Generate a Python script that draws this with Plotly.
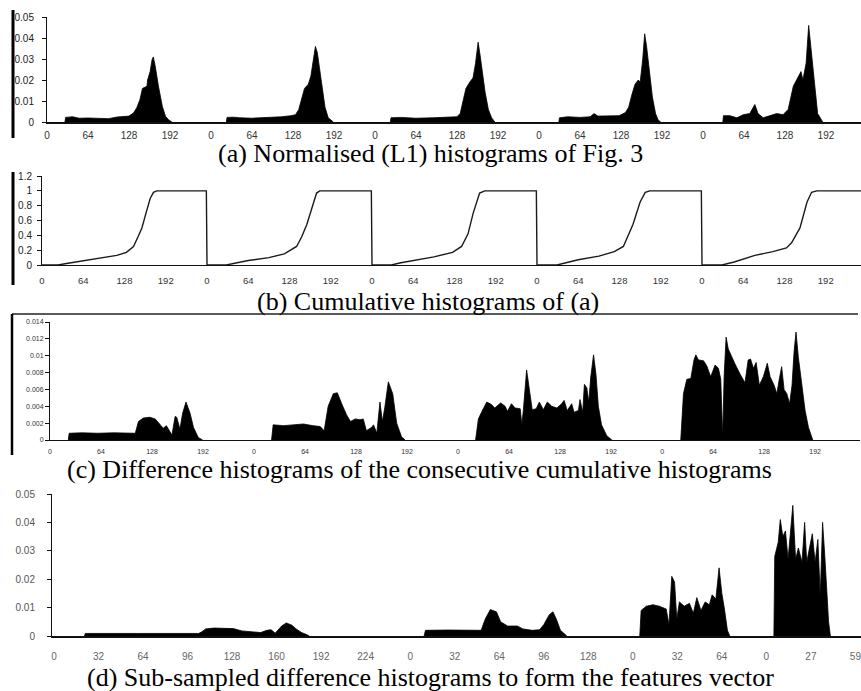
import plotly.graph_objects as go

# ---------------- Panel (a): normalised (L1) histograms, 5 frames ----------------
A1_LEVEL = [28, 29, 40, 50, 64, 80, 96, 110, 120, 128, 135, 140, 145, 149, 156, 157, 161, 164, 166, 169, 174, 180, 185, 190, 195]
A1_FREQ = [0, .0022, .0025, .0018, .0019, .0017, .0016, .0024, .0025, .0028, .0043, .0067, .0106, .016, .017, .020, .024, .0297, .031, .0265, .017, .0075, .0027, .001, 0]
A2_LEVEL = [24, 25, 35, 45, 64, 90, 110, 125, 132, 137, 142, 146, 152, 156, 160, 163, 166, 169, 173, 178, 183, 188, 191]
A2_FREQ = [0, .0022, .0023, .002, .0018, .002, .0025, .003, .0035, .006, .011, .016, .018, .022, .030, .036, .033, .026, .016, .007, .002, .0005, 0]
A3_LEVEL = [24, 25, 40, 64, 90, 110, 128, 133, 138, 142, 148, 153, 157, 161, 164, 168, 172, 177, 182, 187]
A3_FREQ = [0, .002, .0022, .0018, .002, .0022, .0025, .004, .010, .016, .019, .021, .028, .038, .032, .022, .014, .006, .002, 0]
A4_LEVEL = [31, 32, 45, 64, 80, 86, 92, 110, 125, 135, 140, 145, 150, 155, 158, 162, 165, 168, 172, 177, 182, 186, 190]
A4_FREQ = [0, .002, .0025, .0022, .0025, .004, .0028, .0028, .003, .0045, .007, .013, .018, .020, .019, .030, .042, .036, .026, .012, .004, .001, 0]
A5_LEVEL = [31, 32, 42, 53, 63, 73, 81, 86, 94, 104, 115, 125, 133, 141, 146, 153, 156, 161, 165, 170, 175, 179, 187]
A5_FREQ = [0, .003, .003, .002, .0035, .004, .0083, .004, .002, .003, .004, .0035, .006, .017, .020, .024, .020, .028, .046, .030, .015, .004, 0]

# ---------------- Panel (b): cumulative histograms ----------------
B1_LEVEL = [0, 25, 38, 64, 90, 116, 131, 142, 149, 155, 162, 168, 173, 178, 255]
B1_CUM = [0, 0, .02, .06, .09, .13, .17, .25, .38, .50, .72, .90, .98, 1.0, 1.0]
B2_LEVEL = [0, 30, 45, 64, 96, 120, 139, 147, 155, 162, 170, 175, 255]
B2_CUM = [0, 0, .03, .06, .10, .15, .25, .38, .55, .76, .97, 1.0, 1.0]
B3_LEVEL = [0, 30, 45, 64, 96, 125, 139, 149, 157, 167, 175, 255]
B3_CUM = [0, 0, .03, .06, .11, .17, .25, .42, .70, .97, 1.0, 1.0]
B4_LEVEL = [0, 31, 45, 64, 96, 120, 134, 149, 160, 168, 175, 255]
B4_CUM = [0, 0, .03, .07, .12, .18, .25, .55, .85, .98, 1.0, 1.0]
B5_LEVEL = [0, 31, 50, 82, 110, 131, 139, 152, 163, 170, 178, 255]
B5_CUM = [0, 0, .04, .13, .18, .23, .30, .50, .85, .98, 1.0, 1.0]

# ---------------- Panel (c): difference histograms ----------------
C1_LEVEL = [23, 24, 40, 60, 80, 100, 107, 111, 117, 125, 132, 142, 146, 153, 157, 159, 163, 166.5, 170.6, 175.7, 180, 186, 191.5]
C1_DIFF = [0, .0008, .00085, .0008, .00085, .0008, .0008, .0022, .0026, .0027, .0025, .0014, .0017, .0006, .0028, .0027, .0013, .0032, .0045, .0032, .0015, .0003, 0]
C2_LEVEL = [22, 24, 37, 49, 62, 74, 83, 88, 93, 99.5, 104.5, 110, 116, 121, 127, 133, 137, 141, 147.6, 150, 154, 158, 161, 164, 168.5, 174, 179, 185, 189.5]
C2_DIFF = [0, .0018, .0017, .0018, .0019, .0017, .0016, .0011, .004, .0055, .0056, .0043, .003, .0022, .0025, .0024, .0025, .0011, .0015, .0018, .0008, .0045, .0022, .0038, .0069, .0055, .002, .0004, 0]
C3_LEVEL = [22, 25.5, 30, 36, 42, 46, 53.5, 59, 62, 67, 71.5, 78, 80, 82, 86, 89.5, 93, 98, 102, 107, 112, 117.5, 124, 130, 133, 137, 142.6, 145.5, 151, 153, 156.4, 158.5, 161.5, 164, 166.5, 170, 173, 176, 180, 186.6, 193]
C3_DIFF = [0, .0025, .0034, .0045, .0042, .0038, .0044, .004, .0034, .0043, .0038, .0037, .0018, .0036, .0083, .0062, .0036, .0037, .0045, .0036, .0045, .004, .0038, .0043, .0047, .0035, .0043, .0033, .0035, .0048, .0033, .0066, .0062, .0045, .0075, .0101, .0078, .004, .0018, .0005, 0]
C4_LEVEL = [23.4, 26.8, 31, 36, 40, 42.3, 45.6, 52, 56, 61, 66.5, 70.7, 73.6, 76, 77.8, 80.3, 83, 87.4, 91.6, 97.9, 104, 108, 111, 114.6, 118, 122, 127, 132, 135.5, 140.5, 144, 147, 150, 153, 156.5, 160, 163, 165.6, 168, 171, 175.3, 179.4, 183.6, 189]
C4_DIFF = [0, .0055, .0072, .0073, .0095, .0101, .0095, .0094, .0088, .0075, .0089, .0085, .0072, .0004, .0075, .0122, .0108, .0098, .009, .0078, .0068, .0095, .0096, .0085, .0092, .0065, .0075, .0091, .0075, .0065, .0055, .0072, .0087, .006, .0055, .0043, .0065, .0105, .0128, .0098, .0062, .0035, .0015, 0]

# ---------------- Panel (d): sub-sampled difference histograms (feature index) ----------------
D1_BIN = [22, 22.5, 60, 104, 106.4, 109, 115, 122, 129, 135, 141, 148.6, 153, 156, 159, 163.6, 167, 171, 174, 178, 181, 183.6]
D1_VAL = [0, .0009, .0009, .0009, .0015, .0025, .0028, .0028, .0026, .0018, .0015, .0012, .002, .0022, .001, .0035, .0046, .0038, .0025, .0012, .0006, 0]
D2_BIN = [266, 267, 283, 297, 307, 310, 313.6, 318, 321, 326, 333, 337, 343.6, 349, 352, 356, 358.6, 361, 364, 368.6]
D2_VAL = [0, .002, .0021, .002, .002, .006, .0093, .0085, .005, .0035, .0035, .0025, .002, .0022, .004, .0075, .0085, .006, .002, 0]
D3_BIN = [421, 422, 425.7, 430.5, 435, 440, 442, 444, 446, 447.6, 449.5, 453, 456.7, 459.5, 462, 465, 468, 471, 473, 475.7, 478, 480, 481.7, 484, 485.7]
D3_VAL = [0, .009, .0105, .011, .0105, .0095, .004, .021, .019, .006, .012, .0105, .0115, .008, .0135, .009, .012, .011, .0145, .013, .024, .015, .01, .002, 0]
D4_BIN = [517.4, 518, 520.5, 522, 523.8, 525.7, 527.6, 529, 531, 533, 535, 537.6, 539.5, 541, 543.6, 545, 547, 549, 550.7, 552.4, 554, 556.7, 558]
D4_VAL = [0, .028, .033, .041, .035, .037, .027, .034, .046, .027, .031, .026, .04, .026, .033, .036, .026, .034, .014, .04, .028, .005, 0]

# ---------------- Tick labels ----------------
HIST_TICKS = [0, 64, 128, 192]
D_TICK_TEXT = ["0", "32", "64", "96", "128", "160", "192", "224", "0", "32", "64", "96", "128", "0", "32", "64", "0", "27", "59"]
A_Y_TEXT = ["0", "0.01", "0.02", "0.03", "0.04", "0.05"]
B_Y_TEXT = ["0", "0.2", "0.4", "0.6", "0.8", "1", "1.2"]
C_Y_TEXT = ["0", "0.002", "0.004", "0.006", "0.008", "0.01", "0.012", "0.014"]
D_Y_TEXT = ["0", "0.01", "0.02", "0.03", "0.04", "0.05"]

CAPTIONS = [
    "(a) Normalised (L1) histograms of Fig. 3",
    "(b) Cumulative histograms of (a)",
    "(c) Difference histograms of the consecutive cumulative histograms",
    "(d) Sub-sampled difference histograms to form the features vector",
]

W, H = 861, 691
fig = go.Figure()


def add_fill(xs, ys, offset, xa, ya):
    fig.add_trace(go.Scatter(
        x=[v + offset for v in xs], y=ys, mode="lines", fill="tozeroy",
        line=dict(color="black", width=0.8), fillcolor="black",
        xaxis=xa, yaxis=ya, showlegend=False, hoverinfo="skip"))


for k, (xs, ys) in enumerate([(A1_LEVEL, A1_FREQ), (A2_LEVEL, A2_FREQ), (A3_LEVEL, A3_FREQ),
                              (A4_LEVEL, A4_FREQ), (A5_LEVEL, A5_FREQ)]):
    add_fill(xs, ys, 256 * k, "x", "y")

bx, by = [], []
for k, (xs, ys) in enumerate([(B1_LEVEL, B1_CUM), (B2_LEVEL, B2_CUM), (B3_LEVEL, B3_CUM),
                              (B4_LEVEL, B4_CUM), (B5_LEVEL, B5_CUM)]):
    bx += [v + 256 * k for v in xs]
    by += ys
fig.add_trace(go.Scatter(x=bx, y=by, mode="lines", line=dict(color="#1a1a1a", width=1.4),
                         xaxis="x2", yaxis="y2", showlegend=False, hoverinfo="skip"))

for k, (xs, ys) in enumerate([(C1_LEVEL, C1_DIFF), (C2_LEVEL, C2_DIFF), (C3_LEVEL, C3_DIFF),
                              (C4_LEVEL, C4_DIFF)]):
    add_fill(xs, ys, 256 * k, "x3", "y3")

for xs, ys in [(D1_BIN, D1_VAL), (D2_BIN, D2_VAL), (D3_BIN, D3_VAL), (D4_BIN, D4_VAL)]:
    add_fill(xs, ys, 0, "x4", "y4")


def ydom(top_px, bottom_px):
    return [1 - bottom_px / H, 1 - top_px / H]


def xaxis_cfg(domain, rng, anchor, tvals, ttext, size, color, standoff, lw):
    return dict(domain=domain, range=rng, anchor=anchor, tickvals=tvals, ticktext=ttext,
                showline=True, linecolor="#111", linewidth=lw, ticks="", showgrid=False,
                zeroline=False, tickangle=0, automargin=False, ticklabeloverflow="allow",
                tickfont=dict(family="Liberation Sans", size=size, color=color),
                ticklabelstandoff=standoff)


def yaxis_cfg(domain, rng, anchor, tvals, ttext, size, color, standoff):
    return dict(domain=domain, range=rng, anchor=anchor, tickvals=tvals, ticktext=ttext,
                showline=True, linecolor="#111", linewidth=1, ticks="outside", ticklen=4,
                tickcolor="#111", showgrid=False, zeroline=False, automargin=False,
                tickfont=dict(family="Liberation Sans", size=size, color=color),
                ticklabelstandoff=standoff)


a_tv = [256 * k + t for k in range(5) for t in HIST_TICKS]
a_tt = [str(t) for k in range(5) for t in HIST_TICKS]
c_tv = [256 * k + t for k in range(4) for t in HIST_TICKS]
c_tt = [str(t) for k in range(4) for t in HIST_TICKS]
d_tv = [32 * i for i in range(len(D_TICK_TEXT))]

fig.update_layout(
    width=W, height=H, margin=dict(l=0, r=0, t=0, b=0, autoexpand=False),
    paper_bgcolor="white", plot_bgcolor="white", showlegend=False,
    xaxis=xaxis_cfg([47 / W, 1], [0, 1270.7], "y", a_tv, a_tt, 10, "#333", 3, 1.5),
    yaxis=yaxis_cfg(ydom(17, 122), [0, 0.05], "x", [0, .01, .02, .03, .04, .05], A_Y_TEXT, 10, "#222", 6),
    xaxis2=xaxis_cfg([42 / W, 1], [0, 1270.7], "y2", a_tv, a_tt, 9.5, "#333", 6, 1.2),
    yaxis2=yaxis_cfg(ydom(176, 265), [0, 1.2], "x2", [0, .2, .4, .6, .8, 1.0, 1.2], B_Y_TEXT, 10, "#222", 3),
    xaxis3=xaxis_cfg([50 / W, 860 / W], [0, 1016.3], "y3", c_tv, c_tt, 7, "#333", 4, 1.2),
    yaxis3=yaxis_cfg(ydom(322, 440), [0, 0.014], "x3", [0, .002, .004, .006, .008, .01, .012, .014], C_Y_TEXT, 7, "#333", 0),
    xaxis4=xaxis_cfg([52 / W, 1], [-1.4, 580], "y4", d_tv, D_TICK_TEXT, 10, "#666", 10, 1.8),
    yaxis4=yaxis_cfg(ydom(494, 636), [0, 0.05], "x4", [0, .01, .02, .03, .04, .05], D_Y_TEXT, 10, "#555", 10),
)

# captions
for text, (cx, cy) in zip(CAPTIONS, [(430, 153), (428, 301), (419, 469), (430, 677)]):
    fig.add_annotation(text=text, x=cx / W, y=1 - cy / H, xref="paper", yref="paper",
                       xanchor="center", yanchor="middle", showarrow=False,
                       font=dict(family="Liberation Serif", size=26, color="black"))

# scanned-figure frame lines
def vline(px, py0, py1, w, color="black"):
    fig.add_shape(type="line", xref="paper", yref="paper", x0=px / W, x1=px / W,
                  y0=1 - py0 / H, y1=1 - py1 / H, line=dict(color=color, width=w))


def hline(py, px0, px1, w, color="#222"):
    fig.add_shape(type="line", xref="paper", yref="paper", x0=px0 / W, x1=px1 / W,
                  y0=1 - py / H, y1=1 - py / H, line=dict(color=color, width=w))


vline(13, 10, 138, 3)
vline(13, 172, 285, 3)
hline(314, 12, 858, 1.5)
vline(12, 314, 455, 2.5)

fig.write_html("out.html", config={"displayModeBar": False},
               post_script="document.body.style.margin='0px';document.body.style.padding='0px';")
